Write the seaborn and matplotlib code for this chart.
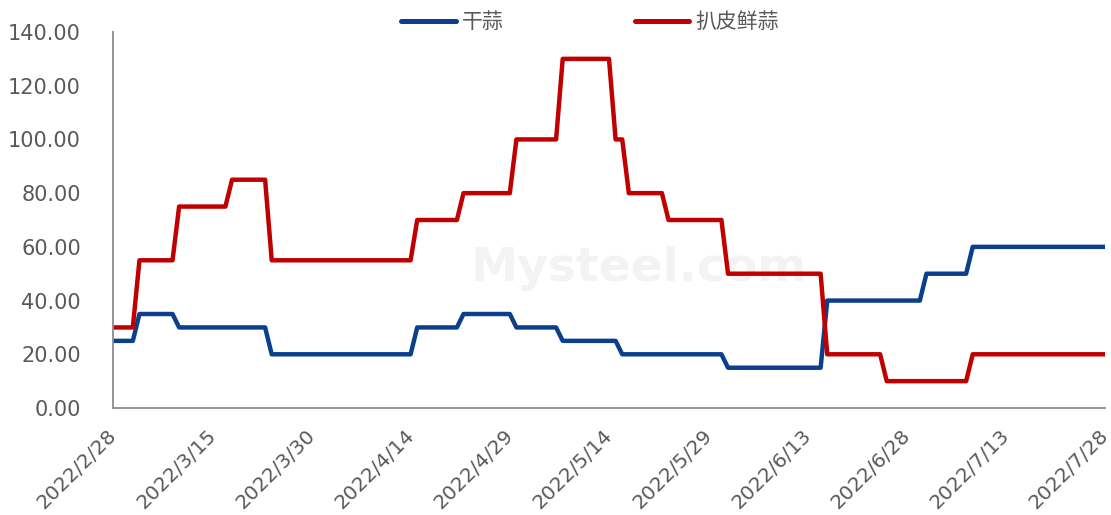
import matplotlib
matplotlib.use("Agg")
import matplotlib.pyplot as plt
import matplotlib.transforms as mtransforms
import matplotlib.ticker as mticker
import seaborn as sns
import pandas as pd

# ---- data ----
start_date = "2022-02-28"
end_date = "2022-07-28"

dry_days = [0, 3, 4, 9, 10, 23, 24, 45, 46, 52, 53, 60, 61, 67, 68, 76, 77, 92, 93, 107, 108, 122, 123, 129, 130, 150]
dry_vals = [25, 25, 35, 35, 30, 30, 20, 20, 30, 30, 35, 35, 30, 30, 25, 25, 20, 20, 15, 15, 40, 40, 50, 50, 60, 60]

fresh_days = [0, 3, 4, 9, 10, 17, 18, 23, 24, 45, 46, 52, 53, 60, 61, 67, 68, 75, 76, 77, 78, 83, 84, 92, 93, 107, 108, 116, 117, 129, 130, 150]
fresh_vals = [30, 30, 55, 55, 75, 75, 85, 85, 55, 55, 70, 70, 80, 80, 100, 100, 130, 130, 100, 100, 80, 80, 70, 70, 50, 50, 20, 20, 10, 10, 20, 20]

series_names = ["干蒜", "扒皮鲜蒜"]
colors = ["#0B3F8C", "#C00000"]
y_ticks = [0, 20, 40, 60, 80, 100, 120, 140]

# ---- build frame ----
t0 = pd.Timestamp(start_date)
df = pd.concat([
    pd.DataFrame({"date": t0 + pd.to_timedelta(dry_days, unit="D"), "value": dry_vals,
                  "series": series_names[0]}),
    pd.DataFrame({"date": t0 + pd.to_timedelta(fresh_days, unit="D"), "value": fresh_vals,
                  "series": series_names[1]}),
], ignore_index=True)

sns.set_theme(style="white")
plt.rcParams["font.family"] = ["DejaVu Sans", "Noto Sans CJK SC"]

fig = plt.figure(figsize=(11.11, 5.15), dpi=100)
ax = fig.add_axes([113/1111, 1 - 408/515, (1105 - 113)/1111, (408 - 32)/515])

sns.lineplot(data=df, x="date", y="value", hue="series", hue_order=series_names,
             palette=colors, linewidth=3.2, sort=False, estimator=None,
             ax=ax, legend=True)

# watermark
ax.text(0.53, 0.37, "Mysteel.com", transform=ax.transAxes, fontsize=34, fontweight="bold",
        color="#F3F3F3", ha="center", va="center", zorder=0)

ax.set_xlim(pd.Timestamp(start_date), pd.Timestamp(end_date))
ax.set_ylim(0, 140)
ax.set_yticks(y_ticks)
ax.yaxis.set_major_formatter(mticker.FuncFormatter(lambda v, p: f"{v:.2f}"))

ticks = pd.date_range(start_date, end_date, freq="15D")
ax.set_xticks(ticks)
ax.set_xticklabels([f"{d.year}/{d.month}/{d.day}" for d in ticks], rotation=45,
                   ha="right", rotation_mode="anchor")

ax.set_xlabel("")
ax.set_ylabel("")
for s in ["top", "right"]:
    ax.spines[s].set_visible(False)
for s in ["left", "bottom"]:
    ax.spines[s].set_color("#8C8C8C")
    ax.spines[s].set_linewidth(1.3)
ax.tick_params(axis="both", which="major", direction="out", length=4, width=1.3,
               color="#8C8C8C", labelcolor="#595959")
ax.tick_params(axis="y", pad=19, labelsize=15)
ax.tick_params(axis="x", pad=6, labelsize=14.5)
ax.grid(False)

offset = mtransforms.ScaledTranslation(-6/100, -4/100, fig.dpi_scale_trans)
for lab in ax.get_xticklabels():
    lab.set_transform(lab.get_transform() + offset)

leg = ax.legend(loc="center", bbox_to_anchor=(590/1111, 1 - 22/515), bbox_transform=fig.transFigure,
                ncol=2, frameon=False, handlelength=2.6, handletextpad=0.3, columnspacing=6.3,
                prop={"family": ["Noto Sans CJK SC"], "size": 15})
for t in leg.get_texts():
    t.set_color("#595959")
for l in leg.get_lines():
    l.set_linewidth(3.6)
    l.set_solid_capstyle("round")

fig.savefig("out.png", dpi=100)
